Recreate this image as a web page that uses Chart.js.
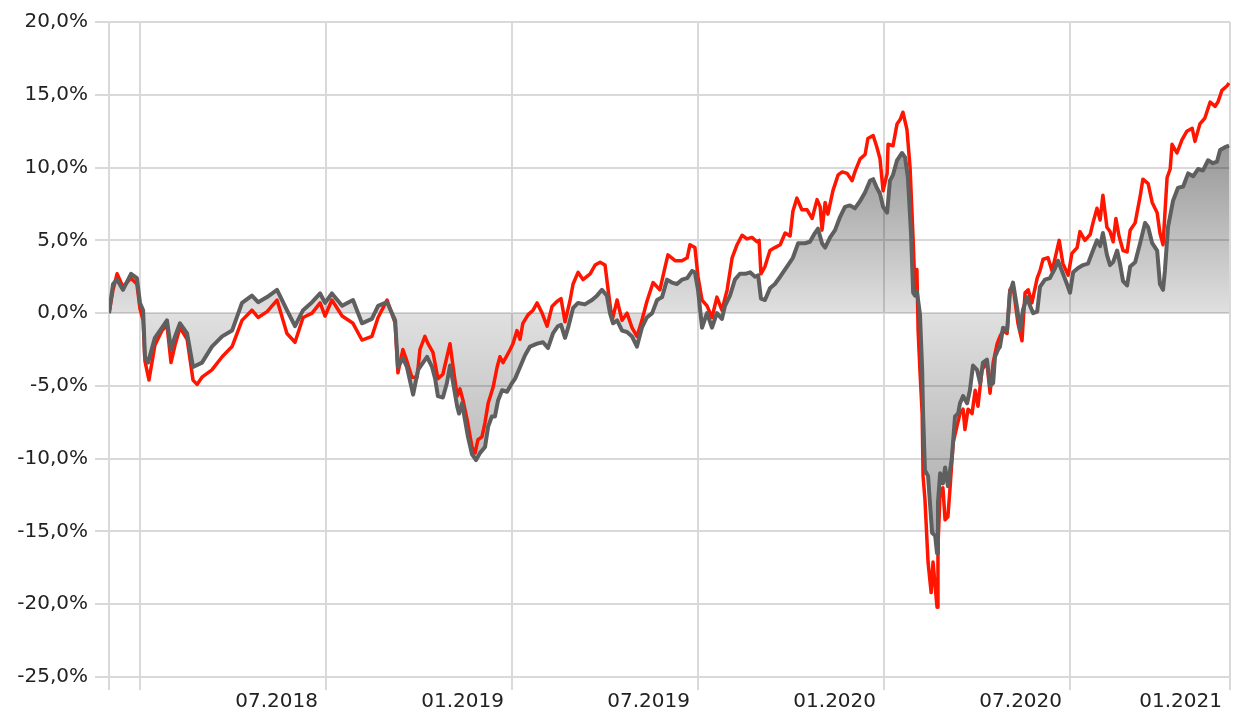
<!DOCTYPE html>
<html>
<head>
<meta charset="utf-8">
<script src="https://cdn.jsdelivr.net/npm/chart.js@4/dist/chart.umd.min.js"></script>
<style>
  body { margin: 0; background: #fff; }
  canvas { display: block; }
</style>
</head>
<body>
<canvas id="perfChart" width="1235" height="712"></canvas>
<script>
// x values are months since 01.2018 (0 = Jan 2018), y values in percent
const grayMonths = [
    -1.00, -0.87, -0.74, -0.55, -0.29, -0.10, 0.00, 0.10, 0.16, 0.26, 0.48, 0.71, 0.87, 1.00, 1.13, 1.29, 1.52, 1.71,
    2.00, 2.32, 2.65, 2.97, 3.29, 3.61, 3.81, 4.10, 4.42, 4.74, 5.00, 5.26, 5.55, 5.81, 5.97, 6.19, 6.52, 6.87,
    7.16, 7.48, 7.68, 7.97, 8.23, 8.32, 8.48, 8.61, 8.81, 8.97, 9.13, 9.26, 9.42, 9.52, 9.61, 9.77, 9.90, 10.00,
    10.10, 10.23, 10.29, 10.39, 10.48, 10.58, 10.71, 10.84, 10.97, 11.13, 11.23, 11.35, 11.45, 11.55, 11.68, 11.84,
    12.00, 12.10, 12.26, 12.42, 12.58, 12.81, 13.00, 13.16, 13.32, 13.48, 13.58, 13.71, 13.81, 13.97, 14.13, 14.35,
    14.58, 14.74, 14.90, 15.06, 15.16, 15.26, 15.39, 15.55, 15.71, 15.87, 16.03, 16.19, 16.35, 16.52, 16.68, 16.84,
    17.00, 17.16, 17.32, 17.48, 17.65, 17.81, 17.90, 18.00, 18.13, 18.29, 18.45, 18.61, 18.77, 18.87, 19.03, 19.19,
    19.35, 19.52, 19.68, 19.84, 19.94, 20.03, 20.16, 20.32, 20.48, 20.65, 20.87, 21.06, 21.23, 21.45, 21.61, 21.77,
    21.87, 22.00, 22.10, 22.26, 22.42, 22.58, 22.74, 22.90, 23.06, 23.23, 23.39, 23.55, 23.65, 23.77, 23.87, 23.97,
    24.10, 24.19, 24.29, 24.42, 24.58, 24.68, 24.77, 24.87, 24.94, 25.00, 25.06, 25.16, 25.23, 25.26, 25.32, 25.42,
    25.55, 25.65, 25.71, 25.74, 25.81, 25.90, 25.97, 26.06, 26.19, 26.29, 26.39, 26.45, 26.55, 26.68, 26.77, 26.87,
    27.00, 27.10, 27.19, 27.32, 27.42, 27.52, 27.58, 27.68, 27.74, 27.84, 27.97, 28.06, 28.16, 28.29, 28.39, 28.48,
    28.61, 28.71, 28.81, 28.94, 29.03, 29.19, 29.35, 29.52, 29.61, 29.74, 29.90, 30.00, 30.10, 30.26, 30.42, 30.58,
    30.74, 30.87, 30.97, 31.06, 31.19, 31.29, 31.39, 31.52, 31.61, 31.71, 31.84, 31.94, 32.10, 32.26, 32.42, 32.52,
    32.65, 32.81, 32.90, 33.00, 33.06, 33.16, 33.32, 33.48, 33.65, 33.81, 33.97, 34.13, 34.29, 34.45, 34.61, 34.74,
    34.84, 35.00, 35.13
];
const grayValues = [
    0.0, 2.0, 2.3, 1.6, 2.7, 2.4, 0.7, 0.2, -3.0, -3.4, -1.7, -1.0, -0.5, -2.5, -1.6, -0.7, -1.4, -3.7,
    -3.4, -2.3, -1.6, -1.2, 0.7, 1.2, 0.75, 1.1, 1.6, 0.2, -0.9, 0.2, 0.75, 1.35, 0.7, 1.35, 0.5, 0.9,
    -0.7, -0.4, 0.5, 0.75, -0.5, -3.7, -3.1, -3.7, -5.6, -3.9, -3.4, -3.0, -3.7, -4.5, -5.7, -5.8, -4.8, -3.6,
    -4.8, -6.4, -6.9, -6.2, -7.3, -8.5, -9.7, -10.1, -9.6, -9.2, -7.8, -7.1, -7.1, -6.0, -5.3, -5.4,
    -4.8, -4.5, -3.7, -2.9, -2.3, -2.1, -2.0, -2.4, -1.4, -0.9, -0.8, -1.7, -1.0, 0.35, 0.7, 0.6,
    0.9, 1.2, 1.6, 1.2, 0.0, -0.7, -0.5, -1.2, -1.3, -1.6, -2.3, -1.0, -0.3, 0.0, 0.9, 1.1,
    2.3, 2.1, 2.0, 2.3, 2.4, 2.9, 2.8, 1.6, -1.0, 0.0, -1.0, 0.0, -0.4, 0.5, 1.2, 2.3,
    2.7, 2.7, 2.8, 2.5, 2.6, 1.0, 0.9, 1.7, 2.0, 2.5, 3.2, 3.8, 4.8, 4.8, 4.9, 5.5,
    5.8, 4.8, 4.5, 5.2, 5.7, 6.6, 7.3, 7.4, 7.2, 7.7, 8.3, 9.1, 9.2, 8.6, 8.2, 7.3,
    6.9, 9.1, 9.5, 10.5, 11.0, 10.7, 9.3, 5.5, 1.4, 1.2, 1.5, -0.1, -3.9, -6.9, -10.8, -11.2,
    -15.1, -15.3, -16.5, -13.0, -11.0, -11.7, -10.6, -11.9, -9.9, -7.1, -6.9, -6.2, -5.7, -6.2, -5.3, -3.6,
    -3.9, -4.8, -3.4, -3.2, -5.0, -4.8, -3.0, -2.5, -2.3, -1.0, -1.2, 1.4, 2.1, 0.4, -1.2, 0.2,
    1.1, 0.5, 0.0, 0.1, 1.8, 2.3, 2.4, 3.1, 3.6, 2.9, 2.0, 1.4, 2.8, 3.1, 3.3, 3.4,
    4.3, 5.0, 4.6, 5.5, 4.0, 3.3, 3.5, 4.3, 3.4, 2.2, 1.9, 3.2, 3.5, 4.8, 6.2, 5.9,
    4.8, 4.3, 2.0, 1.6, 2.9, 5.9, 7.7, 8.6, 8.7, 9.6, 9.4, 9.9, 9.8, 10.5, 10.3, 10.4,
    11.2, 11.4, 11.5
];
const redMonths = [
    -1.00, -0.87, -0.74, -0.55, -0.29, -0.10, 0.00, 0.10, 0.16, 0.29, 0.48, 0.71, 0.87, 1.00, 1.13, 1.29, 1.52, 1.71,
    1.84, 2.00, 2.32, 2.65, 2.97, 3.29, 3.61, 3.81, 4.10, 4.42, 4.74, 5.00, 5.26, 5.55, 5.81, 5.97, 6.19, 6.52,
    6.87, 7.16, 7.48, 7.68, 7.97, 8.23, 8.32, 8.48, 8.61, 8.77, 8.94, 9.03, 9.19, 9.29, 9.45, 9.61, 9.77, 10.00,
    10.10, 10.23, 10.32, 10.42, 10.55, 10.71, 10.81, 10.90, 11.03, 11.13, 11.23, 11.39, 11.52, 11.61, 11.71, 11.84,
    11.94, 12.03, 12.16, 12.26, 12.35, 12.52, 12.68, 12.81, 12.97, 13.13, 13.29, 13.45, 13.58, 13.71, 13.87, 13.97,
    14.13, 14.29, 14.52, 14.68, 14.84, 15.00, 15.10, 15.23, 15.39, 15.55, 15.71, 15.87, 16.03, 16.19, 16.35, 16.55,
    16.77, 16.94, 17.03, 17.26, 17.48, 17.65, 17.74, 17.90, 18.00, 18.13, 18.29, 18.45, 18.61, 18.77, 18.94, 19.10,
    19.26, 19.42, 19.58, 19.74, 19.90, 19.97, 20.03, 20.16, 20.32, 20.48, 20.65, 20.81, 20.97, 21.06, 21.19, 21.35,
    21.52, 21.68, 21.84, 21.94, 22.00, 22.10, 22.19, 22.35, 22.52, 22.65, 22.81, 22.97, 23.06, 23.23, 23.39, 23.48,
    23.65, 23.77, 23.87, 23.97, 24.10, 24.13, 24.29, 24.42, 24.52, 24.61, 24.74, 24.84, 24.94, 25.00, 25.06, 25.10,
    25.16, 25.23, 25.26, 25.32, 25.42, 25.52, 25.58, 25.71, 25.74, 25.81, 25.90, 25.97, 26.06, 26.13, 26.23, 26.35,
    26.45, 26.55, 26.61, 26.71, 26.84, 26.94, 27.03, 27.16, 27.32, 27.42, 27.52, 27.65, 27.74, 27.84, 27.97, 28.06,
    28.16, 28.32, 28.45, 28.55, 28.65, 28.77, 28.94, 29.03, 29.13, 29.29, 29.42, 29.52, 29.65, 29.77, 29.94, 30.06,
    30.23, 30.32, 30.48, 30.65, 30.74, 30.87, 30.97, 31.06, 31.19, 31.29, 31.39, 31.48, 31.58, 31.71, 31.84, 31.94,
    32.10, 32.26, 32.35, 32.52, 32.65, 32.81, 32.90, 33.00, 33.13, 33.23, 33.29, 33.45, 33.61, 33.77, 33.94, 34.03,
    34.19, 34.35, 34.52, 34.68, 34.77, 34.90, 35.06, 35.13
];
const redValues = [
    0.0, 1.6, 2.7, 1.8, 2.4, 2.0, 0.3, -0.5, -3.3, -4.6, -2.2, -1.2, -0.8, -3.4, -2.2, -1.0, -1.8, -4.6,
    -4.9, -4.4, -3.9, -3.0, -2.3, -0.5, 0.2, -0.3, 0.1, 0.9, -1.4, -2.0, -0.3, 0.0, 0.7, -0.2, 0.9, -0.2,
    -0.7, -1.85, -1.6, -0.3, 0.9, -0.7, -4.1, -2.5, -3.3, -4.4, -4.4, -2.5, -1.6, -2.1, -2.7, -4.5, -4.2, -2.1,
    -3.7, -5.7, -5.2, -6.0, -7.3, -9.2, -9.6, -8.7, -8.5, -7.5, -6.2, -5.1, -3.7, -3.0, -3.4, -2.9,
    -2.5, -2.1, -1.2, -1.8, -0.7, -0.1, 0.2, 0.7, 0.0, -0.9, 0.45, 0.8, 1.0, -0.6, 0.85, 2.0,
    2.8, 2.3, 2.7, 3.3, 3.5, 3.3, 1.6, -0.5, 0.9, -0.5, 0.0, -1.0, -1.6, -0.5, 0.8, 2.1,
    1.6, 3.2, 4.0, 3.6, 3.6, 3.8, 4.7, 4.5, 2.5, 0.9, 0.5, -0.3, 1.1, 0.2, 1.6, 3.8,
    4.7, 5.35, 5.1, 5.2, 4.9, 5.0, 2.7, 3.2, 4.3, 4.5, 4.7, 5.5, 5.3, 7.0, 7.9, 7.1,
    7.1, 6.5, 7.8, 7.3, 5.7, 7.6, 6.8, 8.4, 9.5, 9.7, 9.6, 9.1, 9.7, 10.6, 10.9, 12.0,
    12.2, 11.4, 10.6, 8.4, 9.6, 11.6, 11.5, 13.0, 13.3, 13.8, 12.6, 10.0, 5.0, 1.5, 3.0, -1.2,
    -4.0, -6.9, -11.2, -12.8, -17.1, -19.2, -17.1, -20.2, -16.0, -12.3, -12.0, -14.2, -14.0, -12.0, -8.9, -7.8,
    -6.9, -6.6, -8.0, -6.6, -6.9, -5.3, -6.4, -3.9, -3.4, -5.5, -3.4, -2.1, -1.6, -1.2, -1.4, 1.6,
    1.9, -0.7, -1.9, 1.4, 1.6, 0.7, 2.4, 2.9, 3.7, 3.8, 2.9, 3.8, 5.0, 3.4, 2.6, 4.1,
    4.5, 5.6, 5.0, 5.4, 6.2, 7.2, 6.4, 8.1, 5.9, 5.6, 4.9, 6.5, 5.3, 4.3, 4.2, 5.7,
    6.2, 8.0, 9.2, 8.9, 7.6, 6.9, 5.5, 4.7, 9.3, 9.9, 11.6, 11.0, 11.9, 12.5, 12.7, 11.8,
    13.0, 13.4, 14.5, 14.2, 14.5, 15.3, 15.6, 15.8
];

const tickMonths = [-1, 0, 6, 12, 18, 24, 30, 35.16];
const tickLabels = ["", "", "07.2018", "01.2019", "07.2019", "01.2020", "07.2020", "01.2021"];

const chartCanvas = document.getElementById("perfChart");
const gridColor = "#d9d9d9";
const labelFont = { family: "'DejaVu Sans', Verdana, sans-serif", size: 20 };

function toPoints(xs, ys) {
    return xs.map((x, i) => ({ x: x, y: ys[i] }));
}

// darker the further the area is from 0%, grid stays visible through it
function fillGradient(context) {
    const chart = context.chart;
    if (!chart.chartArea) return "rgba(0,0,0,0.2)";
    const yScale = chart.scales.y;
    const top = yScale.getPixelForValue(20);
    const bottom = yScale.getPixelForValue(-25);
    const zero = yScale.getPixelForValue(0);
    const g = chart.ctx.createLinearGradient(0, top, 0, bottom);
    g.addColorStop(0, "rgba(0,0,0,0.62)");
    g.addColorStop((zero - top) / (bottom - top), "rgba(0,0,0,0.12)");
    g.addColorStop(1, "rgba(0,0,0,0.47)");
    return g;
}

new Chart(chartCanvas, {
    type: "line",
    data: {
        datasets: [
            {
                label: "Benchmark",
                data: toPoints(grayMonths, grayValues),
                borderColor: "#5f5f5f",
                borderWidth: 4,
                backgroundColor: fillGradient,
                fill: "origin",
                pointRadius: 0,
                tension: 0,
                borderJoinStyle: "round",
                order: 0
            },
            {
                label: "Fonds",
                data: toPoints(redMonths, redValues),
                borderColor: "#ff1500",
                borderWidth: 3.5,
                fill: false,
                pointRadius: 0,
                tension: 0,
                borderJoinStyle: "round",
                order: 1
            }
        ]
    },
    options: {
        responsive: false,
        animation: false,
        layout: { padding: { top: 22, right: 5, left: 0, bottom: 0 } },
        plugins: {
            legend: { display: false },
            tooltip: { enabled: false },
            filler: { drawTime: "beforeDatasetsDraw" }
        },
        scales: {
            x: {
                type: "linear",
                min: -1,
                max: 35.16,
                afterBuildTicks: (scale) => {
                    scale.ticks = tickMonths.map(v => ({ value: v }));
                },
                afterFit: (scale) => { scale.height = 35; },
                grid: { color: gridColor, lineWidth: 2, tickLength: 13 },
                border: { display: false },
                ticks: {
                    autoSkip: false,
                    maxRotation: 0,
                    align: "end",
                    labelOffset: -8,
                    padding: 0,
                    color: "#222",
                    font: labelFont,
                    callback: (value, index) => tickLabels[index]
                }
            },
            y: {
                min: -25,
                max: 20,
                afterFit: (scale) => { scale.width = 109; },
                grid: { color: gridColor, lineWidth: 2, tickLength: 14 },
                border: { display: false },
                ticks: {
                    stepSize: 5,
                    padding: 7,
                    color: "#222",
                    font: labelFont,
                    callback: (value) => value.toFixed(1).replace(".", ",") + "%"
                }
            }
        }
    }
});
</script>
</body>
</html>
